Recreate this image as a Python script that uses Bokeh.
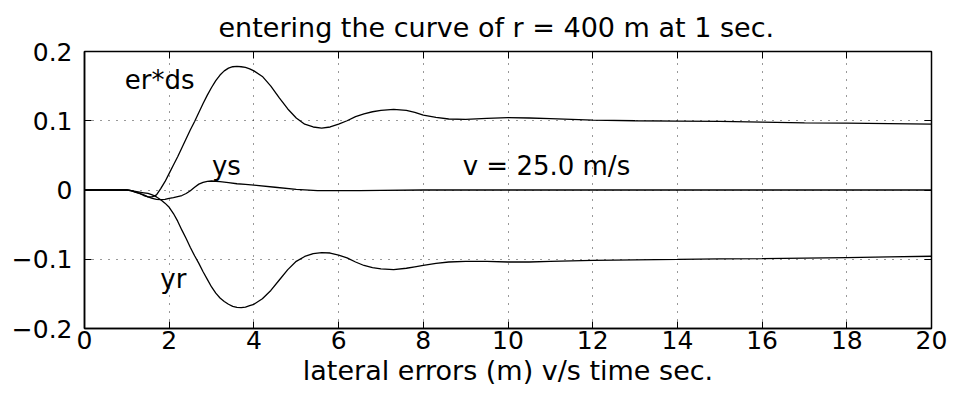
from bokeh.plotting import figure
from bokeh.models import LinearAxis, FixedTicker, Range1d, ColumnDataSource
from bokeh.core.properties import value
from bokeh.embed import file_html
from bokeh.resources import INLINE

# ---- data ----
t_erds = [0.0, 0.5, 1.0, 1.1, 1.2, 1.3, 1.4, 1.5, 1.6, 1.7, 1.8, 1.9, 2.0, 2.1, 2.2, 2.3, 2.4,
          2.5, 2.6, 2.7, 2.8, 2.9, 3.0, 3.1, 3.2, 3.3, 3.4, 3.5, 3.6, 3.7, 3.8, 3.9, 4.0,
          4.2, 4.4, 4.6, 4.8, 5.0, 5.2, 5.4, 5.6, 5.8, 6.0, 6.2, 6.4, 6.6, 6.8, 7.0, 7.3,
          7.6, 7.8, 8.0, 8.3, 8.6, 9.0, 9.5, 10.0, 10.5, 11.0, 12.0, 13.0, 14.0, 15.0,
          16.0, 17.0, 18.0, 19.0, 20.0]
erds = [0.0, 0.0, 0.0, -0.001, -0.003, -0.005, -0.008, -0.010, -0.010, -0.007, 0.002, 0.012,
        0.024, 0.036, 0.048, 0.061, 0.074, 0.087, 0.099, 0.112, 0.125, 0.137, 0.148, 0.158,
        0.166, 0.172, 0.176, 0.178, 0.1786, 0.178, 0.177, 0.175, 0.172, 0.164, 0.150, 0.133,
        0.117, 0.104, 0.095, 0.091, 0.0895, 0.091, 0.095, 0.100, 0.106, 0.110, 0.113, 0.115,
        0.1165, 0.115, 0.112, 0.108, 0.105, 0.1025, 0.102, 0.1035, 0.1045, 0.104, 0.103,
        0.101, 0.100, 0.0995, 0.099, 0.098, 0.097, 0.0967, 0.0958, 0.095]

t_yr = [0.0, 0.5, 1.0, 1.1, 1.2, 1.3, 1.4, 1.5, 1.6, 1.7, 1.8, 1.9, 2.0, 2.1, 2.2, 2.3, 2.4,
        2.5, 2.6, 2.7, 2.8, 2.9, 3.0, 3.1, 3.2, 3.3, 3.4, 3.5, 3.6, 3.7, 3.8, 3.9, 4.0,
        4.2, 4.4, 4.6, 4.8, 5.0, 5.2, 5.4, 5.6, 5.8, 6.0, 6.2, 6.4, 6.6, 6.8, 7.0, 7.3,
        7.6, 7.8, 8.0, 8.3, 8.6, 9.0, 9.5, 10.0, 10.5, 11.0, 12.0, 13.0, 14.0, 15.0,
        16.0, 17.0, 18.0, 19.0, 20.0]
yr = [0.0, 0.0, 0.0, -0.001, -0.002, -0.003, -0.004, -0.005, -0.007, -0.010, -0.014, -0.019,
      -0.025, -0.034, -0.045, -0.058, -0.070, -0.083, -0.095, -0.106, -0.118, -0.129, -0.140,
      -0.149, -0.156, -0.161, -0.165, -0.168, -0.1695, -0.170, -0.169, -0.167, -0.165,
      -0.157, -0.145, -0.130, -0.115, -0.103, -0.096, -0.092, -0.0905, -0.091, -0.094,
      -0.098, -0.104, -0.109, -0.112, -0.114, -0.115, -0.113, -0.111, -0.109, -0.106,
      -0.104, -0.103, -0.103, -0.104, -0.104, -0.103, -0.1015, -0.1008, -0.1003, -0.0995,
      -0.099, -0.0983, -0.0976, -0.0966, -0.0957]

t_ys = [0.0, 0.5, 1.0, 1.1, 1.2, 1.3, 1.4, 1.5, 1.6, 1.7, 1.8, 1.9, 2.0, 2.1, 2.2, 2.3, 2.4,
        2.5, 2.6, 2.7, 2.8, 2.9, 3.0, 3.2, 3.4, 3.6, 3.8, 4.0, 4.5, 5.0, 5.5, 6.0, 6.5,
        7.0, 8.0, 10.0, 14.0, 20.0]
ys = [0.0, 0.0, 0.0, -0.001, -0.003, -0.005, -0.007, -0.010, -0.012, -0.0135, -0.014,
      -0.0135, -0.012, -0.011, -0.0095, -0.008, -0.005, -0.001, 0.004, 0.0085, 0.011,
      0.0125, 0.013, 0.012, 0.0105, 0.009, 0.008, 0.007, 0.004, 0.001, -0.001, -0.001,
      -0.001, -0.0005, 0.0, 0.0, 0.0, 0.0]

x_ticks = [0, 2, 4, 6, 8, 10, 12, 14, 16, 18, 20]
y_ticks = [-0.2, -0.1, 0, 0.1, 0.2]
y_tick_labels = {-0.2: "\u22120.2", -0.1: "\u22120.1", 0: "0", 0.1: "0.1", 0.2: "0.2"}

label_texts = ["er*ds", "ys", "yr", "v = 25.0 m/s"]
label_x = [0.95, 3.01, 1.79, 8.93]
label_y = [0.1588, 0.0349, -0.1284, 0.0349]

title_text = "entering the curve of r = 400 m at 1 sec."
xlabel_text = "lateral errors (m) v/s time sec."

FONT = "DejaVu Sans"

p = figure(width=950, height=388, output_backend="svg", toolbar_location=None,
           x_range=Range1d(0, 20), y_range=Range1d(-0.2, 0.2),
           min_border_left=84, min_border_right=19, min_border_top=50, min_border_bottom=58,
           title=title_text, x_axis_label=xlabel_text)

p.title.text_font = FONT
p.title.text_font_size = "27px"
p.title.text_font_style = "normal"
p.title.text_color = "black"
p.title.align = "left"
p.title.offset = 134
p.title.standoff = 18

p.outline_line_color = "black"
p.outline_line_width = 1.5
p.background_fill_color = "white"
p.border_fill_color = "white"

for ax in (p.xaxis[0], p.yaxis[0]):
    ax.axis_line_width = 1.5
    ax.major_tick_in = 7
    ax.major_tick_out = 0
    ax.minor_tick_in = 0
    ax.minor_tick_out = 0
    ax.major_label_text_font = FONT
    ax.major_label_text_font_size = "25px"
    ax.major_label_text_color = "black"
    ax.axis_line_color = "black"
    ax.major_tick_line_color = "black"

p.xaxis[0].ticker = FixedTicker(ticks=x_ticks)
p.yaxis[0].ticker = FixedTicker(ticks=y_ticks)
p.yaxis[0].major_label_overrides = y_tick_labels
p.xaxis[0].major_label_standoff = 2
p.yaxis[0].major_label_standoff = 12
p.xaxis[0].axis_label_text_font = FONT
p.xaxis[0].axis_label_text_font_size = "27px"
p.xaxis[0].axis_label_text_font_style = "normal"
p.xaxis[0].axis_label_text_color = "black"
p.xaxis[0].axis_label_standoff = 3

top_ax = LinearAxis(ticker=FixedTicker(ticks=x_ticks), major_tick_in=7, major_tick_out=0,
                    minor_tick_in=0, minor_tick_out=0, major_label_text_font_size="0px",
                    major_label_text_color=None, axis_line_color=None)
right_ax = LinearAxis(ticker=FixedTicker(ticks=y_ticks), major_tick_in=7, major_tick_out=0,
                      minor_tick_in=0, minor_tick_out=0, major_label_text_font_size="0px",
                      major_label_text_color=None, axis_line_color=None)
p.add_layout(top_ax, "above")
p.add_layout(right_ax, "right")

p.xgrid.ticker = FixedTicker(ticks=x_ticks)
p.ygrid.ticker = FixedTicker(ticks=y_ticks)
for g in (p.xgrid, p.ygrid):
    g.grid_line_color = "black"
    g.grid_line_alpha = 0.8
    g.grid_line_width = 1
    g.grid_line_dash = "1 7"

p.line(t_erds, erds, line_color="black", line_width=1.3)
p.line(t_ys, ys, line_color="black", line_width=1.3)
p.line(t_yr, yr, line_color="black", line_width=1.3)

src = ColumnDataSource(dict(x=label_x, y=label_y, text=label_texts))
p.text(x="x", y="y", text="text", source=src, text_font=value(FONT),
       text_font_size=value("26px"), text_color="black", text_baseline="alphabetic",
       text_align="left")

open("out.html", "w").write(file_html(p, INLINE))
